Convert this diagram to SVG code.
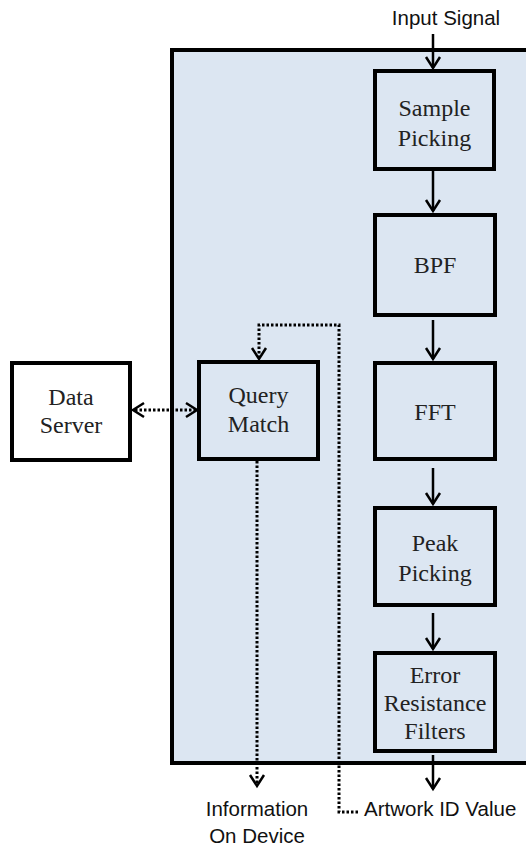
<svg xmlns="http://www.w3.org/2000/svg" width="526" height="848" viewBox="0 0 526 848">
<style>
.box{fill:#dce6f2;stroke:#000;stroke-width:4}
.ext{fill:#fff;stroke:#000;stroke-width:4}
.lbl{font-family:"Liberation Serif",serif;font-size:24px;fill:#222;text-anchor:middle}
.cap{font-family:"Liberation Sans",Arial,sans-serif;font-size:20.5px;fill:#111}
.solid{stroke:#000;stroke-width:2.5;fill:none}
.dot{stroke:#000;stroke-width:3;fill:none;stroke-dasharray:2.5 2}
.head{stroke:#000;stroke-width:2.5;fill:none}
</style>
<rect id="frame" x="172" y="50" width="370" height="713" fill="#dce6f2" stroke="#000" stroke-width="4"/>
<g id="connectors">
  <line class="solid" x1="433" y1="34" x2="433" y2="68"/>
  <polyline class="head" points="426,57 433,68 440,57"/>
  <line class="solid" x1="433" y1="171" x2="433" y2="211"/>
  <polyline class="head" points="426,200 433,211 440,200"/>
  <line class="solid" x1="433" y1="320" x2="433" y2="359"/>
  <polyline class="head" points="426,348 433,359 440,348"/>
  <line class="solid" x1="433" y1="468" x2="433" y2="504"/>
  <polyline class="head" points="426,493 433,504 440,493"/>
  <line class="solid" x1="433" y1="613" x2="433" y2="649"/>
  <polyline class="head" points="426,638 433,649 440,638"/>
  <line class="solid" x1="433" y1="755" x2="433" y2="789"/>
  <polyline class="head" points="426,778 433,789 440,778"/>
  <line class="dot" x1="135" y1="410" x2="195" y2="410"/>
  <polyline class="head" points="144,403 133,410 144,417"/>
  <polyline class="head" points="186,403 197,410 186,417"/>
  <polyline class="dot" points="358,812 339,812 339,325 259,325 259,358"/>
  <polyline class="head" points="252,348 259,359 266,348"/>
  <line class="dot" x1="257" y1="461" x2="257" y2="784"/>
  <polyline class="head" points="250,775 257,786 264,775"/>
</g>
<g id="sample-picking">
  <rect class="box" x="375" y="71" width="119" height="98"/>
  <text class="lbl" x="434.5" y="116">Sample</text>
  <text class="lbl" x="434.5" y="146">Picking</text>
</g>
<g id="bpf">
  <rect class="box" x="375" y="215" width="120" height="100"/>
  <text class="lbl" x="435" y="273">BPF</text>
</g>
<g id="fft">
  <rect class="box" x="375" y="363" width="120" height="96"/>
  <text class="lbl" x="435" y="420">FFT</text>
</g>
<g id="peak-picking">
  <rect class="box" x="375" y="508" width="120" height="97"/>
  <text class="lbl" x="435" y="551">Peak</text>
  <text class="lbl" x="435" y="581">Picking</text>
</g>
<g id="error-filters">
  <rect class="box" x="375" y="653" width="120" height="98"/>
  <text class="lbl" x="435" y="683">Error</text>
  <text class="lbl" x="435" y="711">Resistance</text>
  <text class="lbl" x="435" y="739">Filters</text>
</g>
<g id="query-match">
  <rect class="box" x="199" y="362" width="119" height="97"/>
  <text class="lbl" x="258.5" y="403">Query</text>
  <text class="lbl" x="258.5" y="432">Match</text>
</g>
<g id="data-server">
  <rect class="ext" x="12" y="363" width="118" height="97"/>
  <text class="lbl" x="71" y="405">Data</text>
  <text class="lbl" x="71" y="433">Server</text>
</g>
<g id="labels">
  <text class="cap" x="446" y="25" text-anchor="middle">Input Signal</text>
  <text class="cap" x="257" y="816" text-anchor="middle">Information</text>
  <text class="cap" x="257" y="843" text-anchor="middle">On Device</text>
  <text class="cap" x="364" y="816">Artwork ID Value</text>
</g>
</svg>
